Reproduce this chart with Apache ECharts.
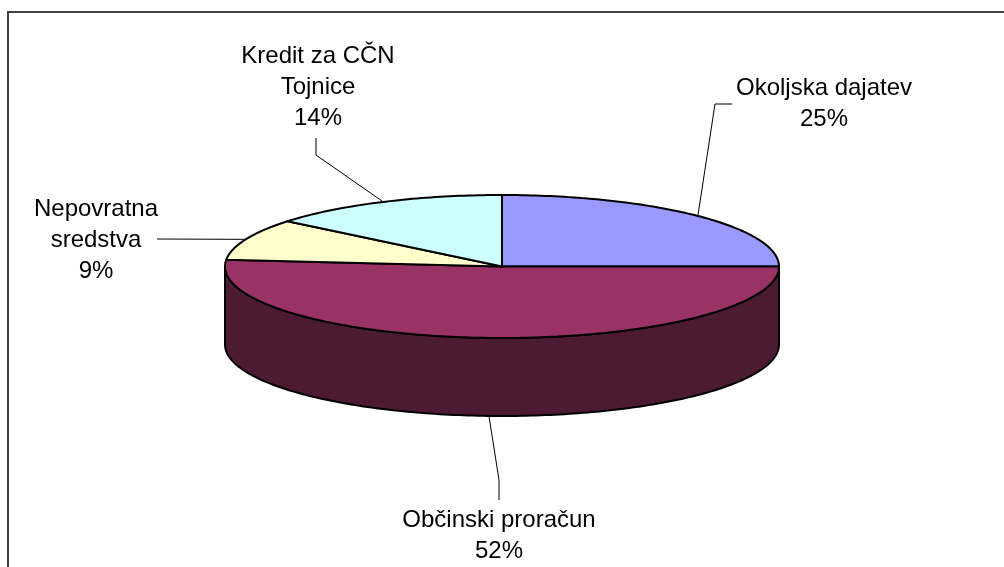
<!DOCTYPE html>
<html>
<head>
<meta charset="utf-8">
<style>
  html, body { margin: 0; padding: 0; background: #fff; }
  #chart { width: 1004px; height: 567px; }
</style>
<script src="https://cdn.jsdelivr.net/npm/echarts@6/dist/echarts.min.js"></script>
</head>
<body>
<div id="chart"></div>
<script>
// data, clockwise from 12 o'clock
var categories = ['Okoljska dajatev', 'Občinski proračun', 'Nepovratna\nsredstva', 'Kredit za CČN\nTojnice'];
var shares = [25, 51.5, 9.4, 14.1];
var topColors = ['#9999FF', '#993366', '#FFFFCC', '#CCFFFF'];
var sideColors = ['#4D4D80', '#4D1A33', '#808066', '#668080'];

// pie geometry
var cx = 502, cy = 266.5, rx = 277, ry = 71.5, depth = 78;

// label centre and leader elbow points for each slice
var labelPos = [[824, 104], [499, 536], [96, 240], [318, 87]];
var leaderPts = [
  [[732, 104], [715, 104]],
  [[499, 500], [499, 480]],
  [[157, 239]],
  [[316, 138], [316, 155]]
];

var total = shares.reduce(function (a, b) { return a + b; }, 0);

function rimPoint(deg, drop) {
  var r = deg * Math.PI / 180;
  return [cx + rx * Math.sin(r), cy - ry * Math.cos(r) + (drop || 0)];
}

function arcPoints(from, to, drop) {
  var pts = [];
  var steps = Math.max(2, Math.ceil(Math.abs(to - from)));
  for (var i = 0; i <= steps; i++) {
    pts.push(rimPoint(from + (to - from) * i / steps, drop));
  }
  return pts;
}

function renderSlice(params, api) {
  var i = params.dataIndex;
  var before = 0;
  for (var k = 0; k < i; k++) before += shares[k];
  var start = before / total * 360;
  var end = start + api.value(0) / total * 360;
  var mid = (start + end) / 2;
  var children = [];

  // side wall, only the front half of the disc shows
  var sideFrom = Math.max(start, 90), sideTo = Math.min(end, 270);
  if (sideTo > sideFrom) {
    children.push({
      type: 'polygon',
      shape: { points: arcPoints(sideFrom, sideTo, 0).concat(arcPoints(sideTo, sideFrom, depth)) },
      style: { fill: sideColors[i], stroke: '#000', lineWidth: 2, lineJoin: 'round' }
    });
  }

  children.push({
    type: 'polygon',
    shape: { points: [[cx, cy]].concat(arcPoints(start, end, 0)) },
    style: { fill: topColors[i], stroke: '#000', lineWidth: 2, lineJoin: 'round' }
  });

  // leader runs from the label to the slice's mid angle on the rim
  var onFront = mid > 90 && mid < 270;
  children.push({
    type: 'polyline',
    shape: { points: leaderPts[i].concat([rimPoint(mid, onFront ? depth : 0)]) },
    style: { fill: null, stroke: '#000', lineWidth: 1 }
  });

  children.push({
    type: 'text',
    x: labelPos[i][0],
    y: labelPos[i][1],
    style: {
      text: categories[i] + '\n' + Math.round(api.value(0) / total * 100) + '%',
      font: '24px "Liberation Sans", Arial, sans-serif',
      lineHeight: 31,
      fill: '#000',
      align: 'center',
      verticalAlign: 'middle'
    }
  });

  return { type: 'group', children: children };
}

var myChart = echarts.init(document.getElementById('chart'));
myChart.setOption({
  backgroundColor: '#fff',
  animation: false,
  graphic: [{
    type: 'polyline',
    silent: true,
    shape: { points: [[8, 567], [8, 12], [1004, 12]] },
    style: { fill: null, stroke: '#404040', lineWidth: 2 }
  }],
  series: [{
    type: 'custom',
    coordinateSystem: 'none',
    silent: true,
    renderItem: renderSlice,
    data: shares.map(function (v, i) { return { name: categories[i], value: [v] }; })
  }]
});
</script>
</body>
</html>
